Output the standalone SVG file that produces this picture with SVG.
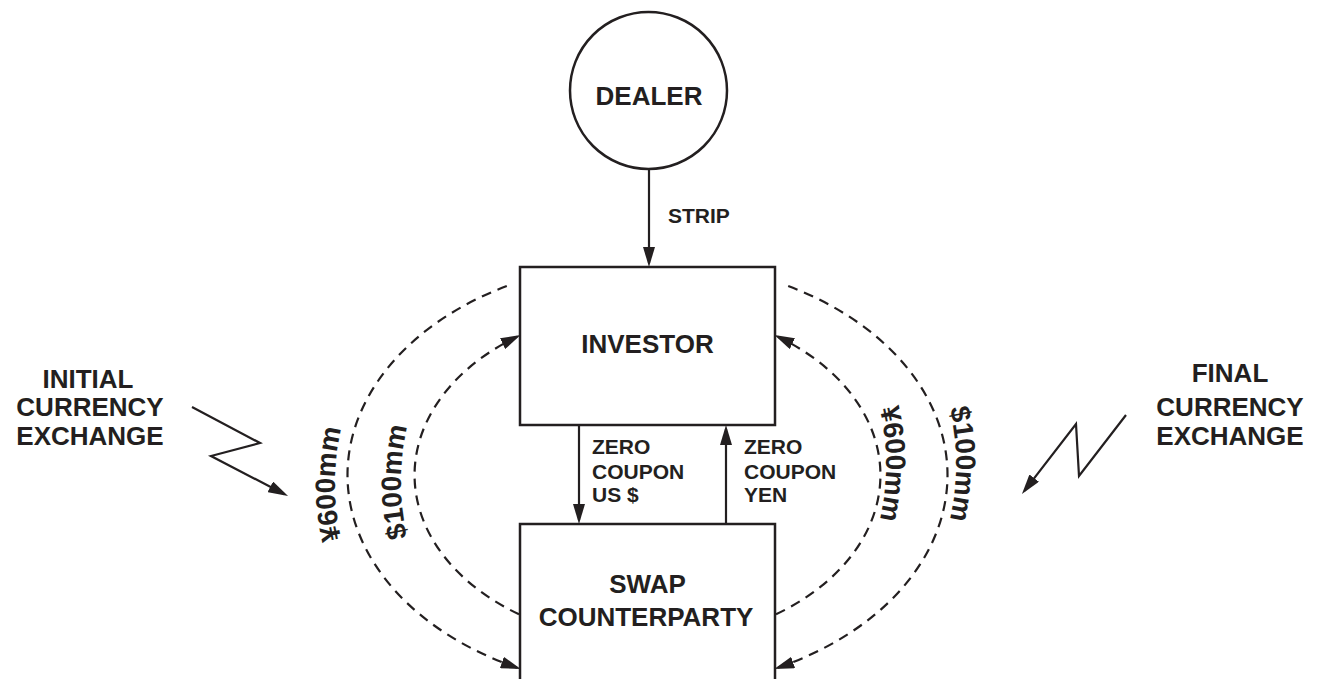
<svg xmlns="http://www.w3.org/2000/svg" width="1317" height="679" viewBox="0 0 1317 679">
  <style>
    text { font-family: "Liberation Sans", Arial, Helvetica, sans-serif; font-weight: bold; fill: #231f20; }
    .big { font-size: 26px; }
    .small { font-size: 21px; }
    .flow { font-size: 28px; }
    .node { fill: #ffffff; stroke: #231f20; stroke-width: 2.5; }
    .solid { fill: none; stroke: #231f20; stroke-width: 2.2; }
    .dash { fill: none; stroke: #231f20; stroke-width: 2.2; stroke-dasharray: 10 7; }
  </style>
  <defs>
    <marker id="head" markerUnits="userSpaceOnUse" markerWidth="20" markerHeight="12" refX="16" refY="6" orient="auto">
      <path d="M0,0 L20,6 L0,12 Z" fill="#231f20"/>
    </marker>
    <!-- baselines for the curved amount labels -->
    <path id="tp-left-outer" d="M391.1 638.3 A240 240 0 0 1 391.1 329.7"/>
    <path id="tp-left-inner" d="M457.1 636.3 A240 240 0 0 1 457.1 327.7"/>
    <path id="tp-right-inner" d="M829.9 309.7 A240 240 0 0 1 829.9 618.3"/>
    <path id="tp-right-outer" d="M899.9 309.7 A240 240 0 0 1 899.9 618.3"/>
  </defs>

  <rect width="1317" height="679" fill="#ffffff"/>

  <g id="connectors">
    <!-- dealer to investor -->
    <line class="solid" x1="649" y1="169" x2="649" y2="263" marker-end="url(#head)"/>
    <!-- investor to counterparty and back -->
    <line class="solid" x1="579" y1="425" x2="579" y2="520" marker-end="url(#head)"/>
    <line class="solid" x1="726" y1="524" x2="726" y2="429" marker-end="url(#head)"/>
    <!-- initial exchange: outer yen leg, inner dollar leg -->
    <path class="dash" d="M506.8 286 A300 214 0 0 0 517 667.7" marker-end="url(#head)"/>
    <path class="dash" d="M519 614.3 A233 167 0 0 1 517 336.7" marker-end="url(#head)"/>
    <!-- final exchange: inner yen leg, outer dollar leg -->
    <path class="dash" d="M776 614.3 A233 167 0 0 0 778 336.7" marker-end="url(#head)"/>
    <path class="dash" d="M788.2 286 A300 214 0 0 1 778 667.7" marker-end="url(#head)"/>
    <!-- lightning pointers -->
    <polyline class="solid" points="192,407 260,443 211,456 284.5,494.2" marker-end="url(#head)"/>
    <polyline class="solid" points="1126,415 1079,476 1076,424 1024.4,490.8" marker-end="url(#head)"/>
  </g>

  <g id="labels">
    <text class="small" x="668" y="223">STRIP</text>
    <text class="small" x="592" y="454">ZERO</text>
    <text class="small" x="592" y="479">COUPON</text>
    <text class="small" x="592" y="502">US $</text>
    <text class="small" x="744" y="454">ZERO</text>
    <text class="small" x="744" y="479">COUPON</text>
    <text class="small" x="744" y="502">YEN</text>
    <text class="flow"><textPath href="#tp-left-outer" startOffset="50%" text-anchor="middle">¥600mm</textPath></text>
    <text class="flow"><textPath href="#tp-left-inner" startOffset="50%" text-anchor="middle">$100mm</textPath></text>
    <text class="flow"><textPath href="#tp-right-inner" startOffset="50%" text-anchor="middle">¥600mm</textPath></text>
    <text class="flow"><textPath href="#tp-right-outer" startOffset="50%" text-anchor="middle">$100mm</textPath></text>
  </g>

  <g id="initial-exchange">
    <text class="big" x="88" y="388" text-anchor="middle">INITIAL</text>
    <text class="big" x="90" y="416" text-anchor="middle">CURRENCY</text>
    <text class="big" x="90" y="445" text-anchor="middle">EXCHANGE</text>
  </g>

  <g id="final-exchange">
    <text class="big" x="1230" y="382" text-anchor="middle">FINAL</text>
    <text class="big" x="1230" y="416" text-anchor="middle">CURRENCY</text>
    <text class="big" x="1230" y="445" text-anchor="middle">EXCHANGE</text>
  </g>

  <g id="dealer">
    <circle class="node" cx="648.5" cy="90.5" r="78.5"/>
    <text class="big" x="649" y="105" text-anchor="middle">DEALER</text>
  </g>

  <g id="investor">
    <rect class="node" x="520" y="267" width="255" height="158"/>
    <text class="big" x="647.5" y="353" text-anchor="middle">INVESTOR</text>
  </g>

  <g id="swap-counterparty">
    <rect class="node" x="520" y="524" width="255" height="180"/>
    <text class="big" x="647.5" y="593" text-anchor="middle">SWAP</text>
    <text class="big" x="646" y="626" text-anchor="middle">COUNTERPARTY</text>
  </g>
</svg>
